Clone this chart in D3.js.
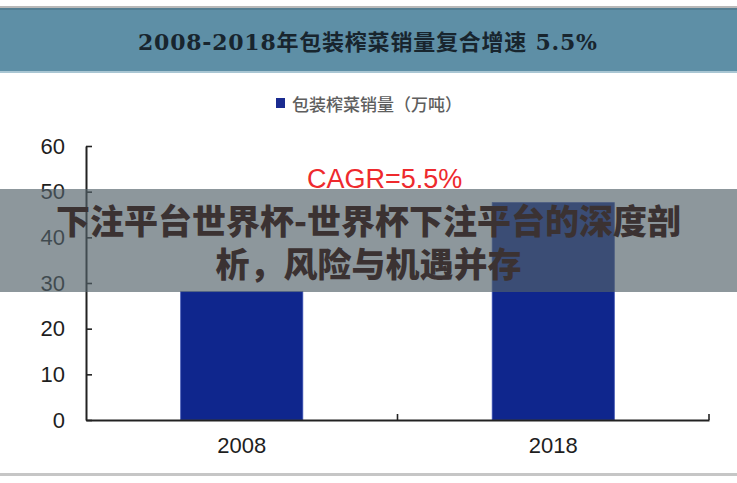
<!DOCTYPE html>
<html><head><meta charset="utf-8">
<script src="https://cdn.jsdelivr.net/npm/d3@7/dist/d3.min.js"></script>
<style>
html,body{margin:0;padding:0;background:#fff;}
svg{display:block;}
</style></head>
<body>
<svg id="chart" width="737" height="483"></svg>
<script>
const categories = ["2008", "2018"];
const salesValues = [28.1, 47.6];
const yTicks = [0, 10, 20, 30, 40, 50, 60];
const chartTitle = "2008-2018年包装榨菜销量复合增速  5.5%";
const legendLabel = "包装榨菜销量（万吨）";
const annotation = "CAGR=5.5%";
const overlayLines = ["下注平台世界杯-世界杯下注平台的深度剖", "析，风险与机遇并存"];

(function () {
const svg = d3.select("#chart");
const W = 737, H = 483;
const plotLeft = 86, plotRight = 709, plotTop = 146, plotBottom = 420;

// frame lines
svg.append("rect").attr("x",0).attr("y",6).attr("width",W).attr("height",2).attr("fill","#b9b9b9");
svg.append("rect").attr("x",0).attr("y",8).attr("width",W).attr("height",64).attr("fill","#5e8fa6");
svg.append("rect").attr("x",0).attr("y",8).attr("width",W).attr("height",2).attr("fill","#557f93");
svg.append("rect").attr("x",0).attr("y",71).attr("width",W).attr("height",2).attr("fill","#a9c6d3");
svg.append("rect").attr("x",0).attr("y",473).attr("width",W).attr("height",3).attr("fill","#c6c6c6");

// title
svg.append("text").attr("x",138).attr("y",50)
  .attr("textLength",459).attr("lengthAdjust","spacing")
  .style("font-family","'DejaVu Serif','Noto Sans CJK SC',serif")
  .style("font-weight","600")
  .style("font-size","22px").style("fill","#18252e")
  .text(chartTitle);

// legend
svg.append("rect").attr("x",276).attr("y",98).attr("width",9).attr("height",10).attr("fill","#1a2b90");
svg.append("text").attr("x",292).attr("y",111)
  .attr("textLength",170).attr("lengthAdjust","spacing")
  .style("font-family","'Noto Sans CJK SC',serif")
  .style("font-weight","500")
  .style("font-size","17px").style("fill","#5e5e5e")
  .text(legendLabel);

// scales
const x = d3.scaleBand().domain(categories).range([plotLeft, plotRight]).padding(0);
const y = d3.scaleLinear().domain([0, 60]).range([plotBottom, plotTop]);
const barW = x.bandwidth() * 0.392;

// bars
svg.append("g").selectAll("rect").data(categories).join("rect")
  .attr("x", (d) => x(d) + x.bandwidth()/2 - barW/2)
  .attr("y", (d,i) => y(salesValues[i]))
  .attr("width", barW)
  .attr("height", (d,i) => y(0) - y(salesValues[i]))
  .attr("fill", "#0f268d")
  .attr("stroke", "#3a50b0").attr("stroke-width", 0.8);

// y axis
const yAxis = svg.append("g").attr("transform", `translate(${plotLeft},0)`)
  .call(d3.axisLeft(y).tickValues(yTicks).tickSize(-6).tickSizeOuter(0).tickPadding(21));
yAxis.select(".domain").attr("stroke","#222").attr("stroke-width",2);
yAxis.selectAll(".tick line").attr("stroke","#222").attr("stroke-width",1.6);
yAxis.selectAll(".tick text")
  .style("font-family","'Liberation Sans',Arial,sans-serif")
  .style("font-size","22px").style("fill","#1e1e1e");

// x axis
const xAxis = svg.append("g").attr("transform", `translate(0,${plotBottom})`)
  .call(d3.axisBottom(x).tickSize(0).tickSizeOuter(0).tickPadding(17));
xAxis.select(".domain").attr("stroke","#222").attr("stroke-width",2);
xAxis.selectAll(".tick text")
  .style("font-family","'Liberation Sans',Arial,sans-serif")
  .style("font-size","22px").style("fill","#1e1e1e");
svg.append("g").selectAll("line").data(categories).join("line")
  .attr("x1", (d) => x(d) + x.bandwidth()).attr("x2", (d) => x(d) + x.bandwidth())
  .attr("y1", plotBottom).attr("y2", plotBottom - 6)
  .attr("stroke","#222").attr("stroke-width",1.6);

// annotation
svg.append("text").attr("x",307).attr("y",188)
  .style("font-family","'Liberation Sans',Arial,sans-serif")
  .style("font-size","27px").style("fill","#ee2a2e")
  .text(annotation);

// overlay band
svg.append("rect").attr("x",0).attr("y",189).attr("width",W).attr("height",103)
  .attr("fill","rgb(82,97,104)").attr("fill-opacity",0.66);
svg.append("g").selectAll("text").data(overlayLines).join("text")
  .attr("x", W/2).attr("y", (d,i) => 234 + i*43)
  .attr("text-anchor","middle")
  .style("font-family","'Noto Sans CJK SC',sans-serif")
  .style("font-weight","900").style("font-size","34px").style("fill","#3b3232")
  .text((d) => d);
})();
</script>
</body></html>
